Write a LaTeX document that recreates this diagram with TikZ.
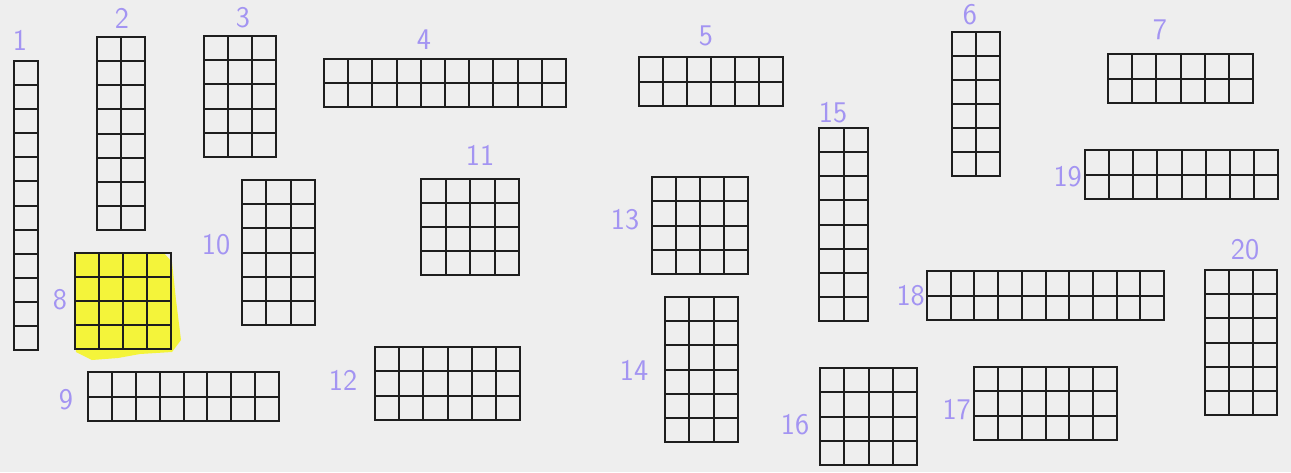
\documentclass[tikz,border=0pt]{standalone}
\usetikzlibrary{calc}
\definecolor{paper}{HTML}{EEEEEE}
\definecolor{ink}{HTML}{1E1E1E}
\definecolor{pen}{HTML}{A394F2}
\definecolor{hilite}{HTML}{F4F43A}
\tikzset{
  gridframe/.style={draw=ink, line width=2pt, inner sep=0pt, outer sep=0pt},
  gridline/.style={draw=ink, line width=2pt},
  lbl/.style={text=pen, font=\sffamily\fontsize{30}{30}\selectfont, inner sep=0pt}
}
% name, x, y, width, height, cols, rows
\newcommand\cellgrid[7]{%
  \node[gridframe, anchor=north west, minimum width=#4pt, minimum height=#5pt] (#1) at (#2,#3) {};
  \pgfmathtruncatemacro\ncols{#6-1}%
  \pgfmathtruncatemacro\nrows{#7-1}%
  \ifnum\ncols>0
    \foreach \i in {1,...,\ncols}{\draw[gridline] ($(#1.north west)!\i/#6!(#1.north east)$) -- ($(#1.south west)!\i/#6!(#1.south east)$);}%
  \fi
  \ifnum\nrows>0
    \foreach \j in {1,...,\nrows}{\draw[gridline] ($(#1.north west)!\j/#7!(#1.south west)$) -- ($(#1.north east)!\j/#7!(#1.south east)$);}%
  \fi
}
\begin{document}
\begin{tikzpicture}[x=1pt,y=-1pt]
\fill[paper] (0,0) rectangle (1291,472);
\useasboundingbox (0,0) rectangle (1291,472);
% highlight behind grid 8
\fill[hilite] (75,252) -- (163,252) -- (172,262) -- (176,300) -- (181,340) -- (172,352) -- (140,354) -- (118,358) -- (92,360) -- (76,352) -- cycle;
\cellgrid{g1}{14}{61}{24}{289}{1}{12}
\cellgrid{g2}{97}{37}{48}{193}{2}{8}
\cellgrid{g3}{204}{36}{72}{121}{3}{5}
\cellgrid{g4}{324}{59}{242}{48}{10}{2}
\cellgrid{g5}{639}{57}{144}{49}{6}{2}
\cellgrid{g6}{952}{32}{48}{144}{2}{6}
\cellgrid{g7}{1108}{54}{145}{49}{6}{2}
\cellgrid{g8}{75}{253}{96}{96}{4}{4}
\cellgrid{g9}{88}{372}{191}{49}{8}{2}
\cellgrid{g10}{242}{180}{73}{145}{3}{6}
\cellgrid{g11}{421}{179}{98}{96}{4}{4}
\cellgrid{g12}{375}{347}{145}{73}{6}{3}
\cellgrid{g13}{652}{177}{96}{97}{4}{4}
\cellgrid{g14}{665}{297}{73}{145}{3}{6}
\cellgrid{g15}{819}{128}{49}{193}{2}{8}
\cellgrid{g16}{820}{368}{97}{97}{4}{4}
\cellgrid{g17}{974}{367}{143}{73}{6}{3}
\cellgrid{g18}{927}{271}{237}{49}{10}{2}
\cellgrid{g19}{1085}{150}{193}{49}{8}{2}
\cellgrid{g20}{1205}{270}{72}{145}{3}{6}
% labels
\node[lbl] (l1) at (20,40) {1};
\node[lbl] (l2) at (122,18) {2};
\node[lbl] (l3) at (243,18) {3};
\node[lbl] (l4) at (424,40) {4};
\node[lbl] (l5) at (706,36) {5};
\node[lbl] (l6) at (970,15) {6};
\node[lbl] (l7) at (1160,30) {7};
\node[lbl] (l8) at (60,300) {8};
\node[lbl] (l9) at (66,400) {9};
\node[lbl] (l10) at (216,245) {10};
\node[lbl] (l11) at (480,155) {11};
\node[lbl] (l12) at (343,380) {12};
\node[lbl] (l13) at (625,220) {13};
\node[lbl] (l14) at (634,370) {14};
\node[lbl] (l15) at (833,113) {15};
\node[lbl] (l16) at (795,425) {16};
\node[lbl, anchor=east] (l17) at (971,410) {17};
\node[lbl, anchor=east] (l18) at (925,296) {18};
\node[lbl, anchor=east] (l19) at (1082,177) {19};
\node[lbl] (l20) at (1245,250) {20};
\end{tikzpicture}
\end{document}
